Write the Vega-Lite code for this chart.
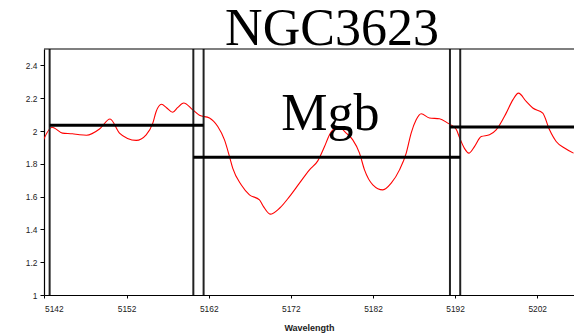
{
  "$schema": "https://vega.github.io/schema/vega-lite/v6.json",
  "autosize": {"type": "none"},
  "padding": {"left": 44, "top": 49, "right": 0, "bottom": 39},
  "width": 530,
  "height": 246,
  "background": "white",
  "config": {
    "view": {"stroke": null},
    "axis": {"grid": false, "labelFont": "Liberation Sans", "labelFontSize": 8.4, "labelColor": "#222", "domainColor": "black", "tickColor": "black", "domainWidth": 1.2, "tickWidth": 1, "titleFont": "Liberation Sans"}
  },
  "title": {"text": "NGC3623", "font": "Liberation Serif", "fontSize": 52, "fontWeight": "normal", "color": "black", "anchor": "middle", "frame": "group", "dx": 23, "dy": 49, "offset": 0, "baseline": "alphabetic"},
  "datasets": {
    "spectrum": [
      {"w": 5141.88, "f": 1.946}, {"w": 5142.91, "f": 2.023}, {"w": 5144.19, "f": 1.987}, {"w": 5145.41, "f": 1.983},
      {"w": 5146.26, "f": 1.977}, {"w": 5147.11, "f": 1.974}, {"w": 5148.70, "f": 2.012}, {"w": 5149.98, "f": 2.073},
      {"w": 5151.13, "f": 1.987}, {"w": 5152.11, "f": 1.955}, {"w": 5153.17, "f": 1.943}, {"w": 5154.38, "f": 1.977},
      {"w": 5155.19, "f": 2.048}, {"w": 5155.60, "f": 2.119}, {"w": 5156.25, "f": 2.163}, {"w": 5156.86, "f": 2.142},
      {"w": 5157.62, "f": 2.114}, {"w": 5158.20, "f": 2.142}, {"w": 5158.95, "f": 2.171}, {"w": 5160.06, "f": 2.129},
      {"w": 5160.87, "f": 2.096}, {"w": 5162.09, "f": 2.079}, {"w": 5163.10, "f": 2.027}, {"w": 5163.92, "f": 1.946},
      {"w": 5164.53, "f": 1.844}, {"w": 5164.93, "f": 1.772}, {"w": 5165.95, "f": 1.672}, {"w": 5166.96, "f": 1.611},
      {"w": 5168.18, "f": 1.580}, {"w": 5168.67, "f": 1.539}, {"w": 5169.48, "f": 1.493}, {"w": 5170.62, "f": 1.529},
      {"w": 5171.83, "f": 1.600}, {"w": 5173.05, "f": 1.682}, {"w": 5174.27, "f": 1.763}, {"w": 5175.28, "f": 1.818},
      {"w": 5176.10, "f": 1.905}, {"w": 5176.71, "f": 1.977}, {"w": 5177.31, "f": 2.013}, {"w": 5177.92, "f": 2.020},
      {"w": 5178.74, "f": 1.987}, {"w": 5179.54, "f": 1.946}, {"w": 5180.36, "f": 1.865}, {"w": 5180.97, "f": 1.763},
      {"w": 5181.98, "f": 1.672}, {"w": 5183.20, "f": 1.641}, {"w": 5184.22, "f": 1.682}, {"w": 5185.23, "f": 1.763},
      {"w": 5186.05, "f": 1.865}, {"w": 5186.65, "f": 1.987}, {"w": 5187.26, "f": 2.068}, {"w": 5187.87, "f": 2.105},
      {"w": 5188.88, "f": 2.079}, {"w": 5190.10, "f": 2.075}, {"w": 5191.11, "f": 2.048}, {"w": 5192.13, "f": 2.011},
      {"w": 5192.54, "f": 1.960}, {"w": 5193.14, "f": 1.894}, {"w": 5193.67, "f": 1.865}, {"w": 5194.36, "f": 1.905},
      {"w": 5195.18, "f": 1.966}, {"w": 5196.19, "f": 1.977}, {"w": 5197.00, "f": 2.007}, {"w": 5198.22, "f": 2.109},
      {"w": 5199.03, "f": 2.190}, {"w": 5199.72, "f": 2.231}, {"w": 5200.66, "f": 2.180}, {"w": 5201.46, "f": 2.140},
      {"w": 5202.68, "f": 2.109}, {"w": 5203.50, "f": 2.007}, {"w": 5204.31, "f": 1.936}, {"w": 5205.32, "f": 1.896},
      {"w": 5206.42, "f": 1.865}
    ],
    "bounds": [{"w": 5142.625}, {"w": 5161.375}, {"w": 5160.125}, {"w": 5192.625}, {"w": 5191.375}],
    "levels": [
      {"w": 5142.625, "w2": 5161.375, "f": 2.035},
      {"w": 5160.125, "w2": 5192.625, "f": 1.84},
      {"w": 5191.375, "w2": 5206.48, "f": 2.024}
    ],
    "labels": [{"w": 5176.8, "f": 2.007, "label": "Mgb"}],
    "frame": [{"f": 2.5}]
  },
  "layer": [
    {
      "data": {"name": "spectrum"},
      "mark": {"type": "line", "color": "#ff0000", "strokeWidth": 1.1, "interpolate": "monotone", "clip": true},
      "encoding": {
        "x": {"field": "w", "type": "quantitative", "scale": {"domain": [5141.94, 5206.48], "nice": false, "zero": false}, "axis": {"title": "Wavelength", "titleFontSize": 9, "titleFontWeight": "bold", "titleColor": "#222", "titlePadding": 11, "values": [5142, 5152, 5162, 5172, 5182, 5192, 5202], "format": "d", "tickSize": 3, "labelPadding": 6}},
        "y": {"field": "f", "type": "quantitative", "scale": {"domain": [1, 2.5], "nice": false, "zero": false}, "axis": {"title": null, "values": [1, 1.2, 1.4, 1.6, 1.8, 2, 2.2, 2.4], "format": "~f", "tickSize": 4, "labelPadding": 3}}
      }
    },
    {
      "data": {"name": "bounds"},
      "mark": {"type": "rule", "color": "#222", "strokeWidth": 2},
      "encoding": {
        "x": {"field": "w", "type": "quantitative", "axis": {"title": "Wavelength", "titleFontSize": 9, "titleFontWeight": "bold", "titleColor": "#222", "titlePadding": 11, "values": [5142, 5152, 5162, 5172, 5182, 5192, 5202], "format": "d", "tickSize": 3, "labelPadding": 6}}
      }
    },
    {
      "data": {"name": "levels"},
      "mark": {"type": "rule", "color": "black", "strokeWidth": 3},
      "encoding": {
        "x": {"field": "w", "type": "quantitative", "axis": {"title": "Wavelength", "titleFontSize": 9, "titleFontWeight": "bold", "titleColor": "#222", "titlePadding": 11, "values": [5142, 5152, 5162, 5172, 5182, 5192, 5202], "format": "d", "tickSize": 3, "labelPadding": 6}},
        "x2": {"field": "w2"},
        "y": {"field": "f", "type": "quantitative", "axis": {"title": null, "values": [1, 1.2, 1.4, 1.6, 1.8, 2, 2.2, 2.4], "format": "~f", "tickSize": 4, "labelPadding": 3}}
      }
    },
    {
      "data": {"name": "labels"},
      "mark": {"type": "text", "font": "Liberation Serif", "fontSize": 52, "color": "black", "align": "center", "baseline": "alphabetic"},
      "encoding": {
        "x": {"field": "w", "type": "quantitative", "axis": {"title": "Wavelength", "titleFontSize": 9, "titleFontWeight": "bold", "titleColor": "#222", "titlePadding": 11, "values": [5142, 5152, 5162, 5172, 5182, 5192, 5202], "format": "d", "tickSize": 3, "labelPadding": 6}},
        "y": {"field": "f", "type": "quantitative", "axis": {"title": null, "values": [1, 1.2, 1.4, 1.6, 1.8, 2, 2.2, 2.4], "format": "~f", "tickSize": 4, "labelPadding": 3}},
        "text": {"field": "label"}
      }
    },
    {
      "data": {"name": "frame"},
      "mark": {"type": "rule", "color": "black", "strokeWidth": 1.2},
      "encoding": {"y": {"field": "f", "type": "quantitative", "axis": {"title": null, "values": [1, 1.2, 1.4, 1.6, 1.8, 2, 2.2, 2.4], "format": "~f", "tickSize": 4, "labelPadding": 3}}}
    }
  ]
}
